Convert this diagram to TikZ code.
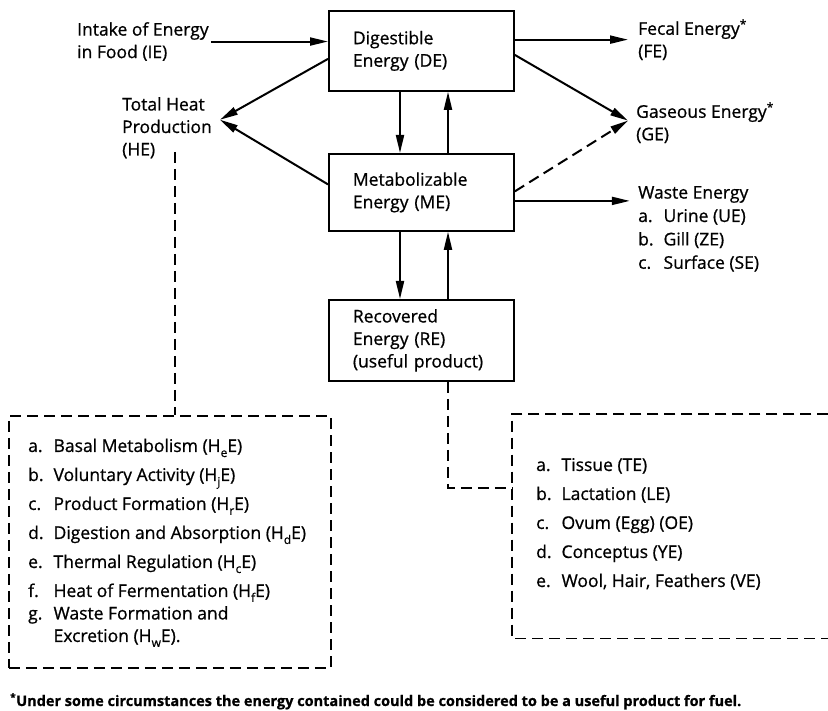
\documentclass[tikz,border=0pt]{standalone}
\usepackage{fontspec}
\setmainfont{Open Sans}[FakeBold=0.8]
\usetikzlibrary{arrows.meta,calc}
\newcommand\hsb[1]{\raisebox{-5pt}[0pt][0pt]{\fontsize{12}{12}\selectfont #1}}
\newcommand\fl{\rule{0pt}{13pt}}
\tikzset{
  txt/.style={anchor=north west, inner sep=0pt, align=left},
  flowbox/.style={draw, line width=1.8pt, anchor=north west, inner xsep=24pt, inner ysep=0pt,
    minimum width=185pt, text width=137pt, align=left},
  arr/.style={line width=2pt, -{Triangle[length=18pt,width=8pt]}},
  dline/.style={line width=1.8pt, dash pattern=on 11pt off 6pt},
}
\begin{document}
\begin{tikzpicture}[x=1pt,y=-1pt,font=\fontsize{17.5}{22.5}\selectfont]
\useasboundingbox (0,0) rectangle (828,711);

% main boxes
\node[flowbox, minimum height=80pt] (de) at (328,10) {Digestible\\Energy (DE)};
\node[flowbox, minimum height=77pt] (me) at (328,153) {Metabolizable\\Energy (ME)};
\node[flowbox, minimum height=81pt] (re) at (328,299) {Recovered\\Energy (RE)\\(useful product)};

% labels
\node[txt] (ie) at (77,22) {\fl Intake of Energy\\in Food (IE)};
\node[txt] (he) at (122,97) {\fl Total Heat\\Production\\(HE)};
\node[txt] (fe) at (638,19) {\fl Fecal Energy\textsuperscript{*}\\(FE)};
\node[txt] (ge) at (636,102) {\fl Gaseous Energy\textsuperscript{*}\\(GE)};
\node[txt] (we) at (638,182) {\def\arraystretch{1.04}\begin{tabular}{@{}l@{\hspace{10pt}}l@{}}
  \multicolumn{2}{@{}l@{}}{Waste Energy}\\
  a. & Urine (UE)\\
  b. & Gill (ZE)\\
  c. & Surface (SE)
\end{tabular}};

% dashed boxes
\node[draw, dline, anchor=north west, inner sep=0pt, minimum width=322pt, minimum height=252pt] (lbox) at (8,415) {};
\node[anchor=north west, inner sep=0pt, minimum width=316pt, minimum height=224pt] (rbox) at (512,414) {};
\draw[dline] (rbox.north east) -- (rbox.north west) -- (rbox.south west) -- (rbox.south east);

\node[txt] (litems) at (28,436) {\begin{tabular}{@{}l@{\hspace{10pt}}l@{}}
  a. & Basal Metabolism (H\hsb{e}E)\\[6.5pt]
  b. & Voluntary Activity (H\hsb{j}E)\\[6.5pt]
  c. & Product Formation (H\hsb{r}E)\\[6.5pt]
  d. & Digestion and Absorption (H\hsb{d}E)\\[6.5pt]
  e. & Thermal Regulation (H\hsb{c}E)\\[6.5pt]
  f. & Heat of Fermentation (H\hsb{f}E)\\
  g. & Waste Formation and\\
     & Excretion (H\hsb{w}E).
\end{tabular}};

\node[txt] (ritems) at (536,455) {\begin{tabular}{@{}l@{\hspace{10pt}}l@{}}
  a. & Tissue (TE)\\[6.5pt]
  b. & Lactation (LE)\\[6.5pt]
  c. & Ovum (Egg) (OE)\\[6.5pt]
  d. & Conceptus (YE)\\[6.5pt]
  e. & Wool, Hair, Feathers (VE)
\end{tabular}};

\node[anchor=base west, inner sep=0pt] (fn) at (10,706) {\fontsize{14.5}{17}\selectfont\bfseries\textsuperscript{*}Under some circumstances the energy contained could be considered to be a useful product for fuel.};

% connectors
\coordinate (getip) at ($(ge.west)+(-8,-2)$);
\coordinate (hetip) at ($(he.east)+(8,-8)$);
\draw[arr] ([xshift=2pt]ie.east) -- (de.west |- ie.east);
\draw[arr] (de.east |- fe.west) -- ([xshift=-10pt]fe.west);
\draw[arr] ($(de.east)+(0,4)$) -- (getip);
\draw[arr, dash pattern=on 11pt off 6pt] ($(me.east)+(0,-1)$) -- (getip);
\draw[arr] ($(me.east)+(0,8.5)$) -- ++(115,0);
\draw[arr] ($(de.west)+(0,8)$) -- (hetip);
\draw[arr] ($(me.west)+(0,-8)$) -- (hetip);
\draw[arr] ($(de.south west)+(72,0)$) -- ($(me.north west)+(72,0)$);
\draw[arr] ($(me.north west)+(120,0)$) -- ($(de.south west)+(120,0)$);
\draw[arr] ($(me.south west)+(72,0)$) -- ($(re.north west)+(72,0)$);
\draw[arr] ($(re.north west)+(120,0)$) -- ($(me.south west)+(120,0)$);

\coordinate (hed) at (175,152);
\draw[dline] (hed) -- (hed |- lbox.north);
\draw[dline] ($(re.south west)+(120,0)$) |- ($(rbox.north west)+(0,74)$);
\end{tikzpicture}
\end{document}
